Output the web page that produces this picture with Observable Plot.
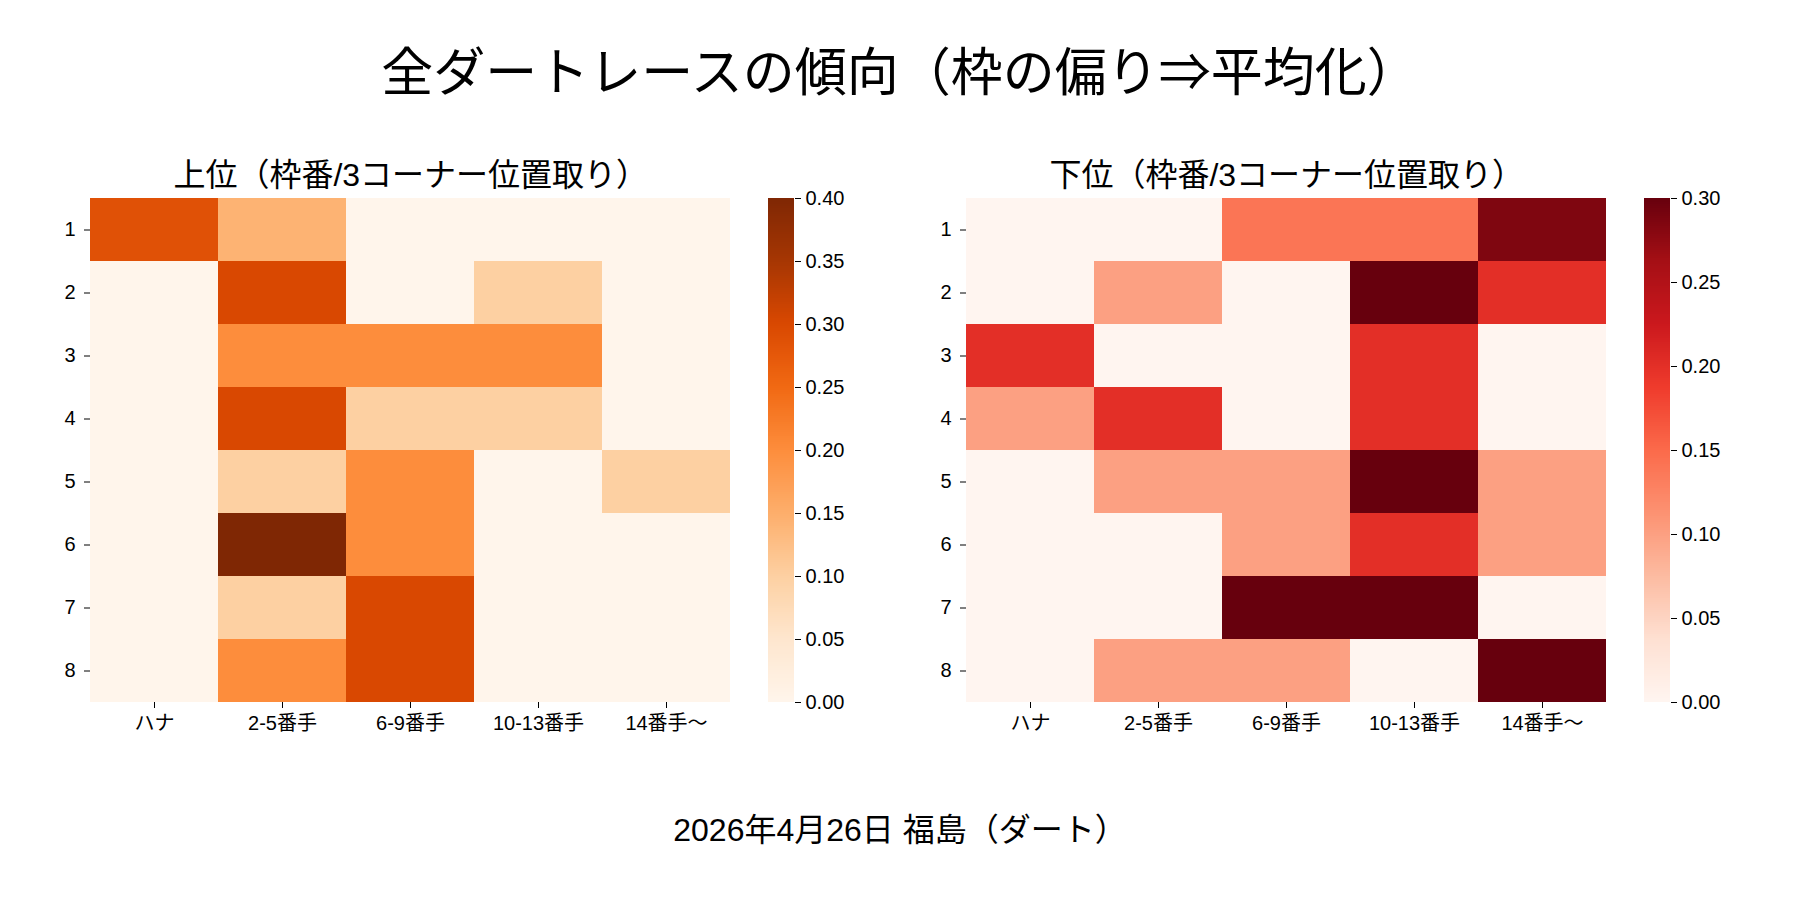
<!DOCTYPE html>
<html>
<head>
<meta charset="utf-8">
<script src="https://cdn.jsdelivr.net/npm/d3@7"></script>
<script src="https://cdn.jsdelivr.net/npm/@observablehq/plot@0.6"></script>
<style>
  * { text-spacing-trim: space-all; }
  body { margin: 0; background: #fff; }
  #root { position: relative; width: 1800px; height: 900px; overflow: hidden; font-family: "Liberation Sans", "Noto Sans CJK JP", sans-serif; color: #000; background: #fff; }
  .abs { position: absolute; }
  #title { left: 0; width: 1800px; top: 41px; line-height: 64px; text-align: center; font-size: 52px; }
  #caption { left: 0; width: 1800px; top: 810px; line-height: 40px; text-align: center; font-size: 32px; }
</style>
</head>
<body>
<div id="root">
  <div id="title" class="abs">全ダートレースの傾向（枠の偏り⇒平均化）</div>
  <div id="leftHeat" class="abs" style="left:30px;top:120px;"></div>
  <div id="leftBar" class="abs" style="left:750px;top:120px;"></div>
  <div id="rightHeat" class="abs" style="left:906px;top:120px;"></div>
  <div id="rightBar" class="abs" style="left:1626px;top:120px;"></div>
  <div id="caption" class="abs">2026年4月26日 福島（ダート）</div>
</div>
<script>
// ---- data ----
const rows = ["1", "2", "3", "4", "5", "6", "7", "8"];
const cols = ["ハナ", "2-5番手", "6-9番手", "10-13番手", "14番手〜"];
const topTitle = "上位（枠番/3コーナー位置取り）";
const bottomTitle = "下位（枠番/3コーナー位置取り）";
const topValues = [
  [0.2857, 0.1429, 0, 0, 0],
  [0, 0.30, 0, 0.10, 0],
  [0, 0.20, 0.20, 0.20, 0],
  [0, 0.30, 0.10, 0.10, 0],
  [0, 0.10, 0.20, 0, 0.10],
  [0, 0.40, 0.20, 0, 0],
  [0, 0.10, 0.30, 0, 0],
  [0, 0.20, 0.30, 0, 0]
];
const bottomValues = [
  [0, 0, 0.14, 0.14, 0.2857],
  [0, 0.10, 0, 0.30, 0.20],
  [0.20, 0, 0, 0.20, 0],
  [0.10, 0.20, 0, 0.20, 0],
  [0, 0.10, 0.10, 0.30, 0.10],
  [0, 0, 0.10, 0.20, 0.10],
  [0, 0, 0.30, 0.30, 0],
  [0, 0.10, 0.10, 0, 0.30]
];
const topMax = 0.40;
const bottomMax = 0.30;
const topTicks = [0, 0.05, 0.10, 0.15, 0.20, 0.25, 0.30, 0.35, 0.40];
const bottomTicks = [0, 0.05, 0.10, 0.15, 0.20, 0.25, 0.30];

// ---- styles (matplotlib Oranges / Reds stops) ----
const orangesStops = ["#fff5eb", "#fee6ce", "#fdd0a2", "#fdae6b", "#fd8d3c", "#f16913", "#d94801", "#a63603", "#7f2704"];
const redsStops = ["#fff5f0", "#fee0d2", "#fcbba1", "#fc9272", "#fb6a4a", "#ef3b2c", "#cb181d", "#a50f15", "#67000d"];
const FONT = '"Liberation Sans", "Noto Sans CJK JP", sans-serif';

function colorScale(vmax, stops) {
  return { type: "linear", domain: [0, vmax], interpolate: d3.piecewise(d3.interpolateRgb, stops), clamp: true };
}

function heatmap(values, vmax, stops, subtitle) {
  const data = rows.flatMap((r, i) => cols.map((c, j) => ({ row: r, col: c, v: values[i][j] })));
  return Plot.plot({
    width: 720, height: 630,
    marginLeft: 60, marginRight: 19.5, marginTop: 78, marginBottom: 48,
    style: { fontFamily: FONT, fontSize: "20px", background: "transparent", color: "#000" },
    x: { domain: cols, padding: 0, label: null, tickSize: 6, tickPadding: 7 },
    y: { domain: rows, padding: 0, label: null, tickSize: 6, tickPadding: 9 },
    color: colorScale(vmax, stops),
    marks: [
      Plot.cell(data, { x: "col", y: "row", fill: "v", inset: 0, shapeRendering: "crispEdges" }),
      Plot.text([subtitle], { text: d => d, frameAnchor: "top", dy: -23, fontSize: 32, lineAnchor: "middle", fill: "#000" })
    ]
  });
}

function colorbar(vmax, stops, ticks, marginRight) {
  const n = 252;
  const step = vmax / n;
  const levels = d3.range(n).map(i => i * step);
  return Plot.plot({
    width: 44 + marginRight, height: 630,
    marginLeft: 18, marginRight: marginRight, marginTop: 78, marginBottom: 48,
    style: { fontFamily: FONT, fontSize: "20px", background: "transparent", color: "#000" },
    y: { domain: [0, vmax], label: null },
    color: colorScale(vmax, stops),
    marks: [
      Plot.barY(levels, { y1: d => d, y2: d => d + step, fill: d => d + step / 2, shapeRendering: "crispEdges" }),
      Plot.axisY({ anchor: "right", ticks: ticks, tickFormat: d3.format(".2f"), tickSize: 6, tickPadding: 5, label: null })
    ]
  });
}

document.getElementById("leftHeat").append(heatmap(topValues, topMax, orangesStops, topTitle));
document.getElementById("leftBar").append(colorbar(topMax, orangesStops, topTicks, 66));
document.getElementById("rightHeat").append(heatmap(bottomValues, bottomMax, redsStops, bottomTitle));
document.getElementById("rightBar").append(colorbar(bottomMax, redsStops, bottomTicks, 66));
</script>
</body>
</html>
